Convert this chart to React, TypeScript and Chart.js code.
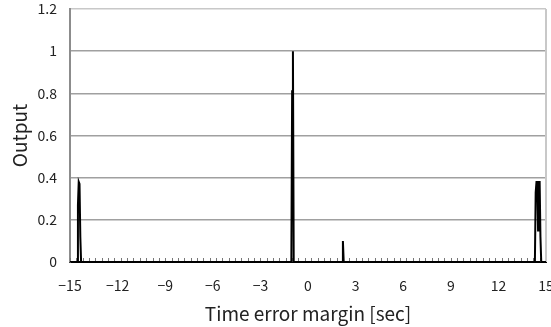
import React, { useEffect, useRef } from "react";
import { Chart, registerables } from "chart.js";

Chart.register(...registerables);

const timeValues = [-15, -14.55, -14.5, -14.45, -14.4, -14.35, -14.3, -1.05, -1.0, -0.95, -0.9, 2.15, 2.2, 2.25, 14.3, 14.35, 14.4, 14.45, 14.5, 14.55, 14.6, 14.65, 14.7, 15];
const outputValues = [0, 0, 0.27, 0.38, 0.37, 0.12, 0, 0, 0.81, 1.0, 0, 0, 0.1, 0, 0, 0.33, 0.38, 0.38, 0.15, 0.38, 0.38, 0.12, 0, 0];

const xTickValues = [-15, -12, -9, -6, -3, 0, 3, 6, 9, 12, 15];
const xTickLabels = ["\u221215", "\u221212", "\u22129", "\u22126", "\u22123", "0", "3", "6", "9", "12", "15"];
const yTickValues = [0, 0.2, 0.4, 0.6, 0.8, 1, 1.2];
const yTickLabels = ["0", "0.2", "0.4", "0.6", "0.8", "1", "1.2"];
const minorTickStep = 0.4;

const FONT = "'Noto Sans CJK JP', 'DejaVu Sans', sans-serif";

const framePlugin = {
  id: "frame",
  beforeDatasetsDraw(chart: any) {
    const { ctx, chartArea, scales } = chart;
    const x = scales.x;
    ctx.save();
    ctx.strokeStyle = "#777";
    ctx.lineWidth = 1;
    for (let v = x.min; v <= x.max + 1e-9; v += minorTickStep) {
      const px = Math.round(x.getPixelForValue(v)) + 0.5;
      ctx.beginPath();
      ctx.moveTo(px, chartArea.bottom);
      ctx.lineTo(px, chartArea.bottom - 4);
      ctx.stroke();
    }
    ctx.strokeStyle = "#c8c8c8";
    ctx.lineWidth = 2;
    ctx.beginPath();
    ctx.moveTo(chartArea.right, chartArea.top);
    ctx.lineTo(chartArea.right, chartArea.bottom);
    ctx.stroke();
    ctx.restore();
  },
};

export default function App() {
  const ref = useRef<HTMLCanvasElement>(null);
  useEffect(() => {
    if (!ref.current) return;
    const chart = new Chart(ref.current, {
      type: "scatter",
      data: {
        datasets: [
          {
            data: timeValues.map((t, i) => ({ x: t, y: outputValues[i] })),
            showLine: true,
            borderColor: "#000",
            borderWidth: 2,
            pointRadius: 0,
            tension: 0,
          },
        ],
      },
      options: {
        animation: false,
        responsive: false,
        events: [],
        layout: { padding: { top: 9, right: 5, left: 0, bottom: 0 } },
        plugins: { legend: { display: false }, tooltip: { enabled: false } },
        scales: {
          x: {
            type: "linear",
            min: -15,
            max: 15,
            afterBuildTicks: (s: any) => {
              s.ticks = xTickValues.map((v) => ({ value: v }));
            },
            afterFit: (s: any) => {
              s.height = 65;
              s.paddingLeft = 0;
              s.paddingRight = 0;
            },
            grid: { display: false, drawTicks: false },
            border: { display: true, color: "#000", width: 2 },
            ticks: {
              padding: 15,
              maxRotation: 0,
              autoSkip: false,
              color: "#222",
              font: { family: FONT, size: 14 },
              callback: (v: any) => {
                const i = xTickValues.indexOf(Number(v));
                return i >= 0 ? xTickLabels[i] : "";
              },
            },
            title: {
              display: true,
              text: "Time error margin [sec]",
              color: "#222",
              font: { family: FONT, size: 19 },
              padding: { top: 0, bottom: 2 },
            },
          },
          y: {
            type: "linear",
            min: 0,
            max: 1.2,
            afterBuildTicks: (s: any) => {
              s.ticks = yTickValues.map((v) => ({ value: v }));
            },
            afterFit: (s: any) => {
              s.width = 70;
              s.paddingTop = 0;
              s.paddingBottom = 0;
            },
            grid: {
              drawTicks: false,
              lineWidth: 1.5,
              color: (c: any) =>
                c.tick && Math.abs(c.tick.value - 1.2) < 1e-6
                  ? "#c8c8c8"
                  : c.tick && c.tick.value === 0
                  ? "rgba(0,0,0,0)"
                  : "#a0a0a0",
            },
            border: { display: true, color: "#8c8c8c", width: 2 },
            ticks: {
              padding: 13,
              color: "#222",
              font: { family: FONT, size: 14 },
              callback: (v: any) => {
                const i = yTickValues.findIndex((t) => Math.abs(t - Number(v)) < 1e-6);
                return i >= 0 ? yTickLabels[i] : "";
              },
            },
            title: {
              display: true,
              text: "Output",
              color: "#222",
              font: { family: FONT, size: 19 },
              padding: { top: 8, bottom: 0 },
            },
          },
        },
      },
      plugins: [framePlugin],
    });
    return () => chart.destroy();
  }, []);
  return (
    <div style={{ position: "absolute", left: 0, top: 0, width: 551, height: 327, overflow: "hidden", background: "#fff" }}>
      <canvas ref={ref} width={551} height={327} style={{ display: "block" }} />
    </div>
  );
}
